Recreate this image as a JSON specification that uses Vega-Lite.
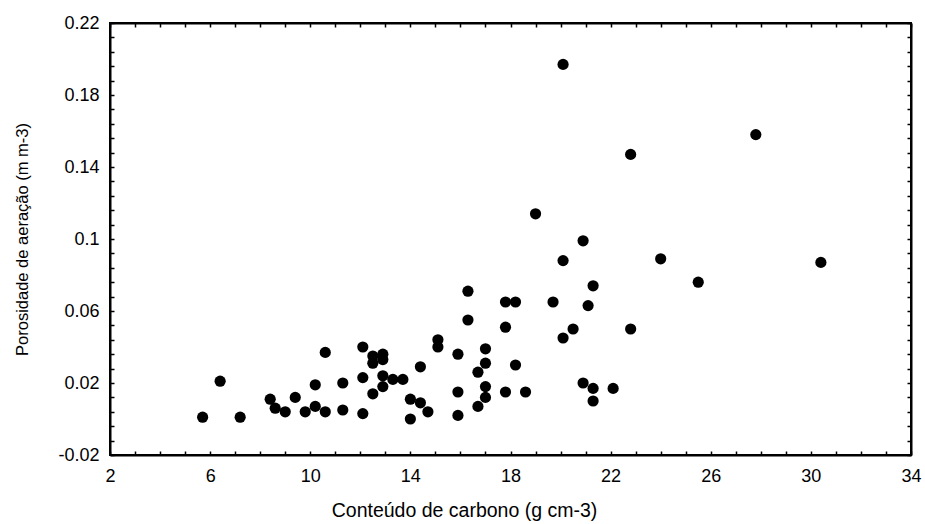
{
  "$schema": "https://vega.github.io/schema/vega-lite/v6.json",
  "width": 801,
  "height": 432,
  "autosize": "none",
  "padding": {"left": 110, "top": 23, "right": 14, "bottom": 69},
  "background": "white",
  "config": {
    "view": {"stroke": "black", "strokeWidth": 2},
    "axis": {"grid": false, "domainColor": "black", "domainWidth": 2, "tickColor": "black", "tickWidth": 1.5, "labelColor": "black", "titleColor": "black", "labelFont": "Liberation Sans", "titleFont": "Liberation Sans", "titleFontWeight": "normal", "labelFlush": false, "labelOverlap": false}
  },
  "data": {"values": [
    {"c": 5.7, "p": 0.001}, {"c": 6.4, "p": 0.021}, {"c": 7.2, "p": 0.001}, {"c": 8.4, "p": 0.011},
    {"c": 8.6, "p": 0.006}, {"c": 9.0, "p": 0.004}, {"c": 9.4, "p": 0.012}, {"c": 9.8, "p": 0.004},
    {"c": 10.2, "p": 0.019}, {"c": 10.2, "p": 0.007}, {"c": 10.6, "p": 0.037}, {"c": 10.6, "p": 0.004},
    {"c": 11.3, "p": 0.020}, {"c": 11.3, "p": 0.005}, {"c": 12.1, "p": 0.040}, {"c": 12.1, "p": 0.023},
    {"c": 12.1, "p": 0.003}, {"c": 12.5, "p": 0.035}, {"c": 12.5, "p": 0.031}, {"c": 12.9, "p": 0.036},
    {"c": 12.9, "p": 0.033}, {"c": 12.5, "p": 0.014}, {"c": 12.9, "p": 0.018}, {"c": 12.9, "p": 0.024},
    {"c": 13.3, "p": 0.022}, {"c": 13.7, "p": 0.022}, {"c": 14.4, "p": 0.029}, {"c": 14.0, "p": 0.011},
    {"c": 14.0, "p": 0.000}, {"c": 14.4, "p": 0.009}, {"c": 14.7, "p": 0.004}, {"c": 15.1, "p": 0.044},
    {"c": 15.1, "p": 0.040}, {"c": 15.9, "p": 0.036}, {"c": 15.9, "p": 0.015}, {"c": 15.9, "p": 0.002},
    {"c": 16.3, "p": 0.071}, {"c": 16.3, "p": 0.055}, {"c": 16.7, "p": 0.026}, {"c": 16.7, "p": 0.007},
    {"c": 17.0, "p": 0.039}, {"c": 17.0, "p": 0.031}, {"c": 17.0, "p": 0.018}, {"c": 17.0, "p": 0.012},
    {"c": 17.8, "p": 0.065}, {"c": 18.2, "p": 0.065}, {"c": 17.8, "p": 0.051}, {"c": 17.8, "p": 0.015},
    {"c": 18.2, "p": 0.030}, {"c": 18.6, "p": 0.015}, {"c": 19.0, "p": 0.114}, {"c": 19.7, "p": 0.065},
    {"c": 20.1, "p": 0.197}, {"c": 20.1, "p": 0.088}, {"c": 20.1, "p": 0.045}, {"c": 20.5, "p": 0.050},
    {"c": 20.9, "p": 0.099}, {"c": 20.9, "p": 0.020}, {"c": 21.1, "p": 0.063}, {"c": 21.3, "p": 0.074},
    {"c": 21.3, "p": 0.017}, {"c": 21.3, "p": 0.010}, {"c": 22.1, "p": 0.017}, {"c": 22.8, "p": 0.147},
    {"c": 22.8, "p": 0.050}, {"c": 24.0, "p": 0.089}, {"c": 25.5, "p": 0.076}, {"c": 27.8, "p": 0.158},
    {"c": 30.4, "p": 0.087}
  ]},
  "resolve": {"axis": {"x": "independent", "y": "independent"}},
  "layer": [
    {
      "mark": {"type": "circle", "size": 125, "color": "black", "opacity": 1},
      "encoding": {
        "x": {"field": "c", "type": "quantitative",
          "scale": {"domain": [2, 34], "nice": false, "zero": false},
          "axis": {"orient": "bottom", "title": "Conteúdo de carbono (g cm-3)",
            "values": [2,3,4,5,6,7,8,9,10,11,12,13,14,15,16,17,18,19,20,21,22,23,24,25,26,27,28,29,30,31,32,33,34],
            "labelExpr": "(datum.value - 2) % 4 === 0 ? datum.label : ''",
            "tickSize": -4, "labelPadding": 16, "labelFontSize": 18,
            "titleFontSize": 19.5, "titleX": 354, "titleY": 61, "titleAlign": "center", "titleBaseline": "alphabetic"}
        },
        "y": {"field": "p", "type": "quantitative",
          "scale": {"domain": [-0.02, 0.22], "nice": false, "zero": false},
          "axis": {"orient": "left", "title": "Porosidade de aeração (m m-3)",
            "values": [-0.02,-0.012,-0.004,0.004,0.012,0.02,0.028,0.036,0.044,0.052,0.06,0.068,0.076,0.084,0.092,0.1,0.108,0.116,0.124,0.132,0.14,0.148,0.156,0.164,0.172,0.18,0.188,0.196,0.204,0.212,0.22],
            "labelExpr": "abs((datum.value + 0.02) / 0.04 - round((datum.value + 0.02) / 0.04)) < 0.01 ? replace(format(datum.value, '.2~f'), '−', '-') : ''",
            "tickSize": -4, "labelPadding": 15, "labelFontSize": 18,
            "titleFontSize": 16.5, "titleX": -83, "titleBaseline": "alphabetic", "titleAngle": -90}
        }
      }
    },
    {
      "mark": {"type": "circle", "size": 125, "opacity": 0},
      "encoding": {
        "x": {"field": "c", "type": "quantitative",
          "scale": {"domain": [2, 34], "nice": false, "zero": false},
          "axis": {"orient": "top", "title": null, "labels": false,
            "values": [2,3,4,5,6,7,8,9,10,11,12,13,14,15,16,17,18,19,20,21,22,23,24,25,26,27,28,29,30,31,32,33,34],
            "tickSize": -4}
        },
        "y": {"field": "p", "type": "quantitative",
          "scale": {"domain": [-0.02, 0.22], "nice": false, "zero": false},
          "axis": {"orient": "right", "title": null, "labels": false,
            "values": [-0.02,-0.012,-0.004,0.004,0.012,0.02,0.028,0.036,0.044,0.052,0.06,0.068,0.076,0.084,0.092,0.1,0.108,0.116,0.124,0.132,0.14,0.148,0.156,0.164,0.172,0.18,0.188,0.196,0.204,0.212,0.22],
            "tickSize": -4}
        }
      }
    }
  ]
}
